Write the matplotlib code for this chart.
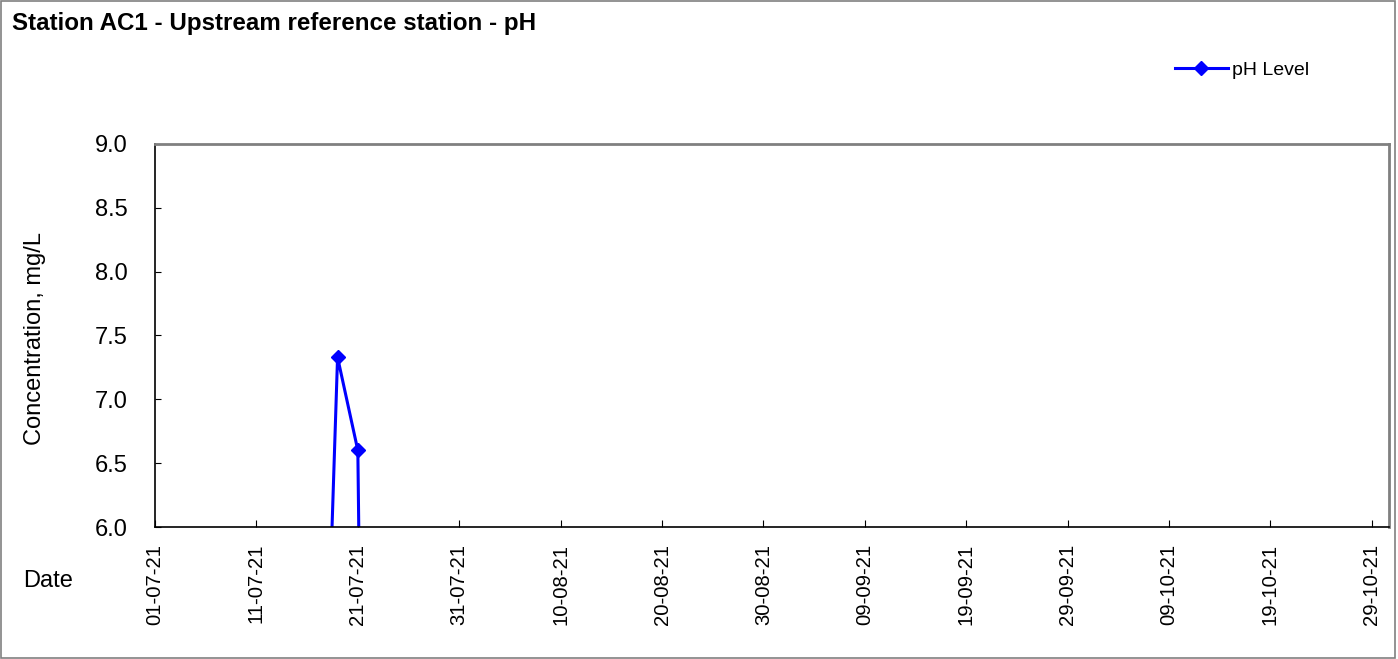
import matplotlib
matplotlib.use("Agg")
import matplotlib.pyplot as plt
import matplotlib.dates as mdates
from matplotlib.patches import Rectangle
from datetime import datetime, timedelta

plt.rcParams['font.family'] = ['Liberation Sans', 'DejaVu Sans']

# sample dates and pH readings (missing readings recorded as 0)
dates = ["16-07-21", "19-07-21", "21-07-21", "22-07-21"]
ph_values = [0.0, 7.33, 6.6, 0.0]

tick_start = "01-07-21"
tick_step_days = 10
tick_count = 13

x = [datetime.strptime(d, "%d-%m-%y") for d in dates]
start = datetime.strptime(tick_start, "%d-%m-%y")
ticks = [start + timedelta(days=tick_step_days * i) for i in range(tick_count)]

fig = plt.figure(figsize=(13.98, 6.59), dpi=100)
fig.patches.append(Rectangle((0.001, 0.001), 0.997, 0.997, transform=fig.transFigure,
                             fill=False, edgecolor='#808080', linewidth=1.2))

ax = fig.add_axes([0.1109, 0.2003, 0.8827, 0.5812])
ax.plot(x, ph_values, color='#0000FF', linewidth=2.2, marker='D', markersize=7,
        label='pH Level', clip_on=True)

ax.set_ylim(6.0, 9.0)
ax.set_yticks([6.0, 6.5, 7.0, 7.5, 8.0, 8.5, 9.0])
ax.yaxis.set_major_formatter(plt.FormatStrFormatter('%.1f'))
ax.set_xlim(start, start + timedelta(days=121.7))
ax.set_xticks(ticks)
ax.xaxis.set_major_formatter(mdates.DateFormatter('%d-%m-%y'))
plt.setp(ax.get_xticklabels(), rotation=90)

ax.tick_params(axis='x', direction='in', length=5, labelsize=14.6, pad=12, color='black')
ax.tick_params(axis='y', direction='in', length=4, labelsize=17, pad=20, color='black')

for s in ['left', 'bottom']:
    ax.spines[s].set_color('black')
    ax.spines[s].set_linewidth(1.2)
for s in ['top', 'right']:
    ax.spines[s].set_color('#808080')
    ax.spines[s].set_linewidth(2)

fig.text(35 / 1398, 0.487, 'Concentration, mg/L', fontsize=17, rotation=90,
         ha='center', va='center')
fig.text(23 / 1398, 1 - 587 / 659, 'Date', fontsize=17)
fig.text(0.0085, 0.955, 'Station AC1 - Upstream reference station - pH',
         fontsize=17.4, fontweight='bold')

ax.legend(loc='center left', frameon=False, fontsize=14, handlelength=2.7,
          handletextpad=0.25, borderaxespad=0, borderpad=0)
leg = ax.get_legend()
leg.set_bbox_to_anchor((1175 / 1398, 1 - 70 / 659), transform=fig.transFigure)

fig.savefig('out.png', dpi=100)
